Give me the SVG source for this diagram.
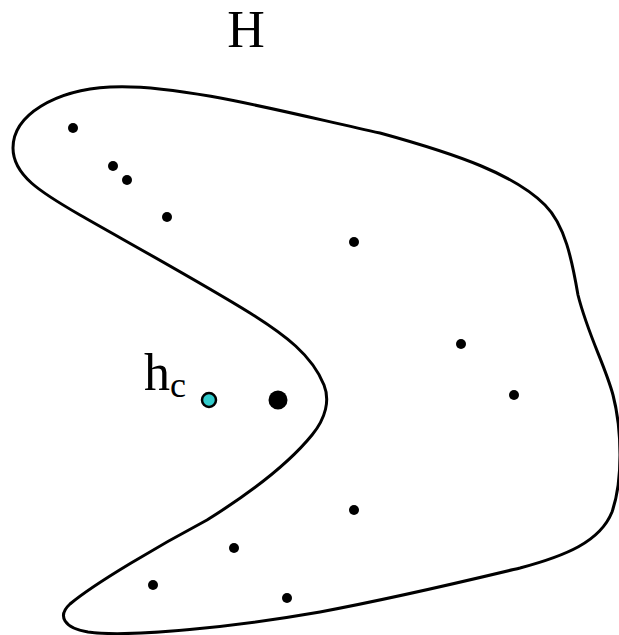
<svg xmlns="http://www.w3.org/2000/svg" width="619" height="635" viewBox="0 0 619 635">
<style>
.outline{fill:none;stroke:#000;stroke-width:3;stroke-linejoin:round}
.pt{fill:#000}
.lbl{font-family:"Liberation Serif","Times New Roman",serif;fill:#000}
</style>
<rect width="619" height="635" fill="#fff"/>
<g id="set-H">
<path class="outline" d="M13,148 C13,115 55,90 110,87 C180,83 300,116 380,133 C460,155 515,175 545,205 C565,225 572,260 578,295 C588,335 605,365 613,395 C622,430 623,480 612,512 C600,542 565,556 520,568 C470,580 400,597 320,612 C240,626 130,638 88,632 C64,628 57,616 70,604 C95,583 160,545 207,520 C255,490 290,462 312,435 C326,418 330,400 324,385 C312,355 285,335 250,313 C200,282 120,238 80,215 C40,192 13,175 13,148 Z"/>
<text class="lbl" x="246" y="47" font-size="52" text-anchor="middle">H</text>
</g>
<g id="points">
<circle class="pt" cx="73" cy="128" r="5"/>
<circle class="pt" cx="113" cy="166" r="5"/>
<circle class="pt" cx="127" cy="180" r="5"/>
<circle class="pt" cx="167" cy="217" r="5"/>
<circle class="pt" cx="354" cy="242" r="5"/>
<circle class="pt" cx="461" cy="344" r="5"/>
<circle class="pt" cx="514" cy="395" r="5"/>
<circle class="pt" cx="354" cy="510" r="5"/>
<circle class="pt" cx="234" cy="548" r="5"/>
<circle class="pt" cx="153" cy="585" r="5"/>
<circle class="pt" cx="287" cy="598" r="5"/>
</g>
<g id="big-point">
<circle class="pt" cx="278" cy="400" r="9.5"/>
</g>
<g id="hc">
<circle cx="209" cy="400" r="7" fill="#33CCCC" stroke="#000" stroke-width="2.5"/>
<text class="lbl" x="144" y="390" font-size="52">h<tspan font-size="36" dy="7">c</tspan></text>
</g>
</svg>
